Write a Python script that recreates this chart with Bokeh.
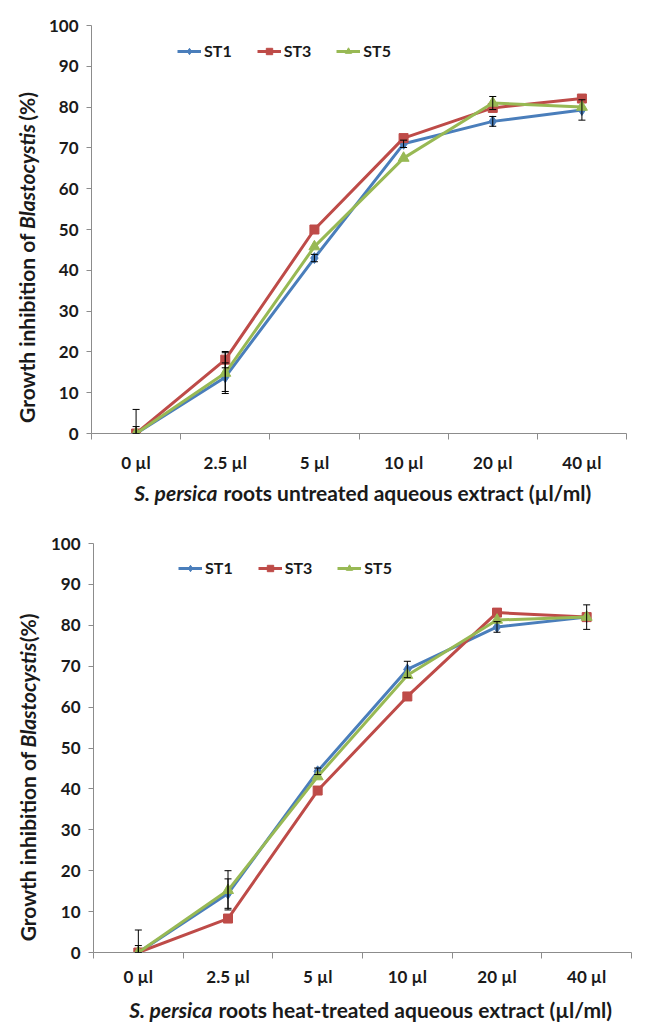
import math
from bokeh.plotting import figure
from bokeh.models import (Range1d, FixedTicker, Legend, LegendItem,
                          ColumnDataSource, Whisker, TeeHead)
from bokeh.core.properties import value
from bokeh.layouts import column, row
from bokeh.embed import file_html
from bokeh.resources import INLINE

# ---------------- data ----------------
categories = ["0 µl", "2.5 µl", "5 µl", "10 µl", "20 µl", "40 µl"]
series_names = ["ST1", "ST3", "ST5"]
y_ticks = [0, 10, 20, 30, 40, 50, 60, 70, 80, 90, 100]

untreated_st1 = [0, 13.8, 43.0, 71.0, 76.5, 79.3]
untreated_st3 = [0, 18.1, 50.0, 72.4, 79.8, 82.1]
untreated_st5 = [0, 14.8, 45.8, 67.5, 81.0, 80.0]
untreated_st1_err = [5.9, 3.5, 0.9, 0.9, 1.2, 2.5]
untreated_st3_err = [1.7, 2.0, 0, 0, 0, 0]
untreated_st5_err = [0, 5.0, 0, 0, 1.6, 0]

heat_st1 = [0, 14.4, 44.3, 69.2, 79.6, 82.0]
heat_st3 = [0, 8.3, 39.6, 62.6, 83.1, 82.0]
heat_st5 = [0, 15.2, 43.0, 67.8, 81.3, 82.0]
heat_st1_err = [5.5, 3.6, 0.8, 2.0, 1.3, 3.0]
heat_st3_err = [1.7, 0, 0, 0, 0, 0]
heat_st5_err = [0, 4.8, 0, 0, 0, 0]

x_title_top = ("S. persica", "roots untreated aqueous extract (µl/ml)")
x_title_bottom = ("S. persica", "roots heat-treated aqueous extract (µl/ml)")
y_title = ("Growth inhibition of", "Blastocystis", "(%)")

colors = ["#4A7EBB", "#BE4B48", "#98B954"]
markers = ["diamond", "square", "triangle"]
marker_sizes = [11, 9, 11]

FONT = "Lato"
TXT = "#1a1a1a"
AXC = "#8c8c8c"
TITLE_SIZE = "21px"


def blank_fig(width, height):
    f = figure(width=width, height=height, output_backend="svg",
               toolbar_location=None, x_axis_type=None, y_axis_type=None,
               x_range=Range1d(0, width), y_range=Range1d(0, height),
               min_border=0, min_border_left=0, min_border_right=0,
               min_border_top=0, min_border_bottom=0)
    f.outline_line_color = None
    f.xgrid.visible = False
    f.ygrid.visible = False
    return f


def make_chart(series, errs, width, height, bl, br, bt, bb, xlab_standoff,
               ylab_standoff, legend_loc):
    p = figure(width=width, height=height, output_backend="svg",
               toolbar_location=None, min_border_left=bl, min_border_right=br,
               min_border_top=bt, min_border_bottom=bb,
               x_range=Range1d(0, len(categories)), y_range=Range1d(0, 100))
    p.outline_line_color = None
    p.xgrid.visible = False
    p.ygrid.visible = False

    xs = [i + 0.5 for i in range(len(categories))]

    xa = p.xaxis[0]
    xa.ticker = FixedTicker(ticks=xs, minor_ticks=list(range(len(categories) + 1)))
    xa.major_label_overrides = {x: c for x, c in zip(xs, categories)}
    xa.major_tick_line_color = None
    xa.major_tick_out = 0
    xa.major_tick_in = 0
    xa.minor_tick_out = 6
    xa.minor_tick_in = 0
    xa.minor_tick_line_color = AXC
    xa.axis_line_color = AXC
    xa.major_label_standoff = xlab_standoff
    xa.major_label_text_font = FONT
    xa.major_label_text_font_style = "bold"
    xa.major_label_text_font_size = "17px"
    xa.major_label_text_color = TXT

    ya = p.yaxis[0]
    ya.ticker = FixedTicker(ticks=y_ticks)
    ya.major_tick_out = 5
    ya.major_tick_in = 0
    ya.minor_tick_line_color = None
    ya.major_tick_line_color = AXC
    ya.axis_line_color = AXC
    ya.major_label_standoff = ylab_standoff
    ya.major_label_text_font = FONT
    ya.major_label_text_font_style = "bold"
    ya.major_label_text_font_size = "17px"
    ya.major_label_text_color = TXT

    items = []
    for name, vals, col, mk, ms in zip(series_names, series, colors, markers, marker_sizes):
        src = ColumnDataSource(dict(x=xs, y=vals))
        lr = p.line("x", "y", source=src, line_color=col, line_width=3)
        sr = p.scatter("x", "y", source=src, marker=mk, size=ms,
                       fill_color=col, line_color=col)
        items.append(LegendItem(label=name, renderers=[lr, sr]))

    for vals, err in zip(series, errs):
        bx, up, lo = [], [], []
        for x, v, e in zip(xs, vals, err):
            if e > 0:
                bx.append(x)
                up.append(v + e)
                lo.append(max(0.0, v - e))
        if bx:
            wsrc = ColumnDataSource(dict(base=bx, upper=up, lower=lo))
            w = Whisker(source=wsrc, base="base", upper="upper", lower="lower",
                        line_color="black", line_width=1, level="overlay",
                        upper_head=TeeHead(size=7, line_color="black", line_width=1),
                        lower_head=TeeHead(size=7, line_color="black", line_width=1))
            p.add_layout(w)

    legend = Legend(items=items, location=legend_loc, orientation="horizontal",
                    border_line_color=None, background_fill_alpha=0,
                    padding=0, margin=0, spacing=25, glyph_width=24,
                    glyph_height=16, label_height=16, label_standoff=3,
                    label_text_font=FONT, label_text_font_style="bold",
                    label_text_font_size="16px", label_text_color=TXT)
    p.add_layout(legend)
    return p


def y_title_fig(width, height, xc, y_split, w_italic):
    f = blank_fig(width, height)
    f.text(x=[xc], y=[y_split], text=[y_title[0]], angle=math.pi / 2,
           text_font=value(FONT), text_font_style="bold", text_font_size=TITLE_SIZE,
           text_color=TXT, text_align="right", text_baseline="middle")
    f.text(x=[xc], y=[y_split + 5], text=[y_title[1]], angle=math.pi / 2,
           text_font=value(FONT), text_font_style="bold italic", text_font_size=TITLE_SIZE,
           text_color=TXT, text_align="left", text_baseline="middle")
    f.text(x=[xc], y=[y_split + 5 + w_italic + 6], text=[y_title[2]], angle=math.pi / 2,
           text_font=value(FONT), text_font_style="bold", text_font_size=TITLE_SIZE,
           text_color=TXT, text_align="left", text_baseline="middle")
    return f


def x_title_fig(width, height, split, yc, parts):
    f = blank_fig(width, height)
    f.text(x=[split - 3], y=[yc], text=[parts[0]],
           text_font=value(FONT), text_font_style="bold italic", text_font_size=TITLE_SIZE,
           text_color=TXT, text_align="right", text_baseline="middle")
    f.text(x=[split + 3], y=[yc], text=[parts[1]],
           text_font=value(FONT), text_font_style="bold", text_font_size=TITLE_SIZE,
           text_color=TXT, text_align="left", text_baseline="middle")
    return f


# ---- top chart (page origin at 0,0) ----
p1 = make_chart([untreated_st1, untreated_st3, untreated_st5],
                [untreated_st1_err, untreated_st3_err, untreated_st5_err],
                width=600, height=475, bl=43, br=19, bt=25, bb=42,
                xlab_standoff=12, ylab_standoff=8, legend_loc=(86, 373))
y1 = y_title_fig(45, 475, xc=26, y_split=233, w_italic=120)
x1 = x_title_fig(645, 30, split=220, yc=13, parts=x_title_top)

# ---- bottom chart ----
p2 = make_chart([heat_st1, heat_st3, heat_st5],
                [heat_st1_err, heat_st3_err, heat_st5_err],
                width=600, height=489, bl=48, br=14, bt=38, bb=42,
                xlab_standoff=7, ylab_standoff=8, legend_loc=(85, 375))
y2 = y_title_fig(45, 489, xc=27, y_split=240, w_italic=120)
x2 = x_title_fig(645, 33, split=215, yc=18, parts=x_title_bottom)

layout = column(row(y1, p1, spacing=0), x1, row(y2, p2, spacing=0), x2, spacing=0)
open("out.html", "w").write(file_html(layout, INLINE))
